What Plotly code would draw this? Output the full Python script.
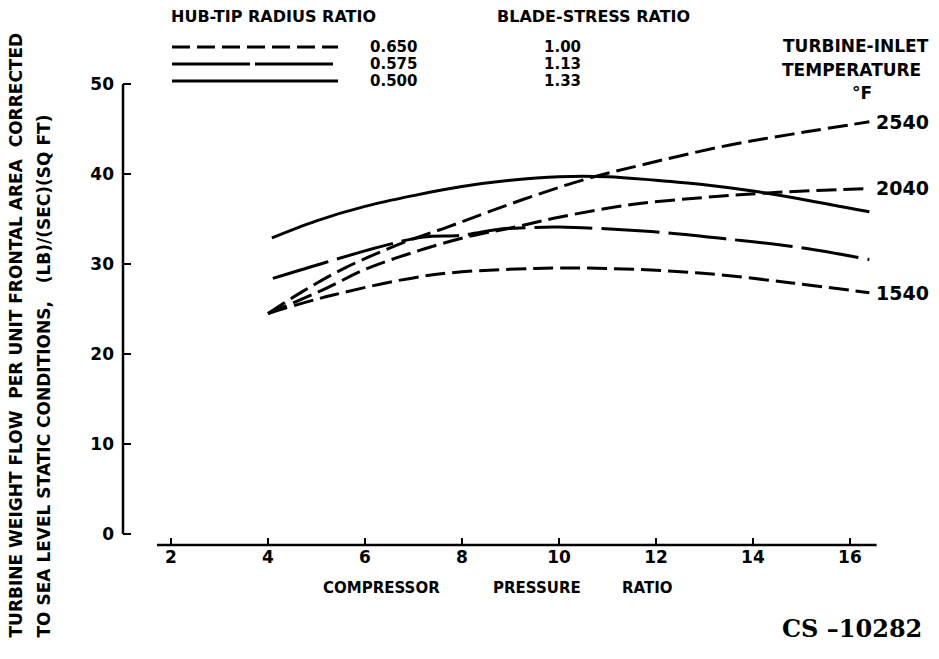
import plotly.graph_objects as go

# Compressor pressure ratio vs. turbine weight flow per unit frontal area
# Hub-tip radius ratio curves (blade-stress limits)
pr_hub_500 = [4.08, 5.0, 6.0, 7.0, 8.0, 9.0, 10.0, 11.0, 12.0, 13.0, 14.0, 15.0, 16.4]
flow_hub_500 = [32.9, 34.8, 36.4, 37.6, 38.6, 39.3, 39.7, 39.7, 39.3, 38.8, 38.1, 37.2, 35.8]

pr_hub_575 = [4.1, 5.2, 6.3, 7.2, 8.0, 8.8, 9.2, 10.0, 11.9, 13.6, 15.0, 16.4]
flow_hub_575 = [28.4, 30.2, 31.9, 33.0, 33.2, 33.9, 34.0, 34.1, 33.6, 32.7, 31.8, 30.5]

# Turbine-inlet temperature curves (hub-tip ratio 0.650)
pr_t1540 = [4.0, 5.3, 7.4, 9.5, 11.0, 12.9, 14.8, 16.4]
flow_t1540 = [24.5, 26.5, 28.8, 29.5, 29.5, 29.0, 27.9, 26.8]

pr_t2040 = [4.0, 5.2, 6.0, 7.0, 8.1, 9.0, 10.0, 11.5, 13.0, 14.3, 16.4]
flow_t2040 = [24.5, 27.3, 29.4, 31.3, 33.0, 34.0, 35.2, 36.6, 37.4, 37.9, 38.4]

pr_t2540 = [4.0, 4.7, 5.6, 6.8, 7.7, 8.6, 9.6, 10.6, 11.7, 13.5, 15.0, 16.4]
flow_t2540 = [24.5, 26.9, 29.6, 32.4, 34.1, 35.9, 37.8, 39.5, 41.0, 43.2, 44.6, 45.8]

temp_labels = ["2540", "2040", "1540"]
x_ticks = [2, 4, 6, 8, 10, 12, 14, 16]
y_ticks = [0, 10, 20, 30, 40, 50]

hub_ratios = ["0.650", "0.575", "0.500"]
stress_ratios = ["1.00", "1.13", "1.33"]

W, H = 939, 659
L, R, T, B = 123, 880, 75, 545
X_RANGE = [1.01, 16.62]
Y_RANGE = [-1.22, 51.0]

FONT = "DejaVu Sans"
INK = "black"
SHORT_DASH = "20px,7px"
LONG_DASH = "58px,9px"


def px(x):
    return (x - L) / (R - L)


def py(y):
    return (B - y) / (B - T)


def b(s):
    return "<b>" + s + "</b>"


fig = go.Figure()


def curve(xs, ys, dash):
    fig.add_trace(go.Scatter(
        x=xs, y=ys, mode="lines",
        line=dict(color=INK, width=3, dash=dash, shape="spline", smoothing=1.0),
        showlegend=False, hoverinfo="skip",
    ))


curve(pr_hub_500, flow_hub_500, "solid")
curve(pr_hub_575, flow_hub_575, LONG_DASH)
curve(pr_t1540, flow_t1540, SHORT_DASH)
curve(pr_t2040, flow_t2040, SHORT_DASH)
curve(pr_t2540, flow_t2540, SHORT_DASH)

annotations = []

# Temperature labels at the right-hand ends of the curves
for lab, xs, ys in zip(temp_labels, [pr_t2540, pr_t2040, pr_t1540],
                       [flow_t2540, flow_t2040, flow_t1540]):
    annotations.append(dict(
        x=xs[-1], y=ys[-1], xref="x", yref="y", text=b(lab), showarrow=False,
        xanchor="left", yanchor="middle", xshift=5,
        font=dict(family=FONT, size=19, color=INK),
    ))


def text(x, y, s, size=16, anchor="center", family=FONT, angle=0, vanchor="middle"):
    annotations.append(dict(
        x=px(x), y=py(y), xref="paper", yref="paper", text=s, showarrow=False,
        xanchor=anchor, yanchor=vanchor, textangle=angle,
        font=dict(family=family, size=size, color=INK),
    ))


# Key
text(273, 17, b("HUB-TIP RADIUS RATIO"), 16)
text(593, 17, b("BLADE-STRESS RATIO"), 16)
row_y = [47, 64, 81]
key_dash = ["18px,7px", "78px,5px", "solid"]
shapes = []
for yy, d, hub, stress in zip(row_y, key_dash, hub_ratios, stress_ratios):
    shapes.append(dict(
        type="line", xref="paper", yref="paper",
        x0=px(172), x1=px(338), y0=py(yy), y1=py(yy),
        line=dict(color=INK, width=3, dash=d),
    ))
    text(368, yy, b(hub), 15, anchor="left")
    text(562, yy, b(stress), 15)

text(856, 46, b("TURBINE-INLET"), 17)
text(851, 70, b("TEMPERATURE"), 17)
text(862, 93, b("°F"), 17)

# Axis titles
text(381, 588, b("COMPRESSOR"), 15)
text(537, 588, b("PRESSURE"), 15)
text(647, 588, b("RATIO"), 15)
text(15, 640, b("TURBINE WEIGHT FLOW &nbsp;PER UNIT FRONTAL AREA &nbsp;CORRECTED"), 17,
     angle=-90, vanchor="bottom")
text(43, 640, b("TO SEA LEVEL STATIC CONDITIONS, &nbsp; (LB)/(SEC)(SQ FT)"), 17,
     angle=-90, vanchor="bottom")

text(852, 628, b("CS –10282"), 24, family="DejaVu Serif")

# Axis lines: the vertical one spans 0-50, the horizontal one sits just below zero
shapes.append(dict(type="line", xref="paper", yref="y", x0=0, x1=0, y0=0, y1=50,
                   line=dict(color=INK, width=2.5)))
shapes.append(dict(type="line", xref="x", yref="paper", x0=1.71, x1=16.55, y0=0, y1=0,
                   line=dict(color=INK, width=2.5)))

fig.update_layout(
    width=W, height=H,
    margin=dict(l=L, r=W - R, t=T, b=H - B),
    paper_bgcolor="white", plot_bgcolor="white",
    showlegend=False,
    xaxis=dict(
        range=X_RANGE, tickvals=x_ticks, ticktext=[b(str(v)) for v in x_ticks],
        ticks="inside", ticklen=7, tickwidth=2, tickcolor=INK,
        showgrid=False, zeroline=False, showline=False,
        tickfont=dict(family=FONT, size=17, color=INK),
    ),
    yaxis=dict(
        range=Y_RANGE, tickvals=y_ticks, ticktext=[b(str(v)) for v in y_ticks],
        ticks="inside", ticklen=8, tickwidth=2, tickcolor=INK,
        showgrid=False, zeroline=False, showline=False,
        ticklabelstandoff=8,
        tickfont=dict(family=FONT, size=17, color=INK),
    ),
    annotations=annotations,
    shapes=shapes,
)

fig.write_html("out.html")
